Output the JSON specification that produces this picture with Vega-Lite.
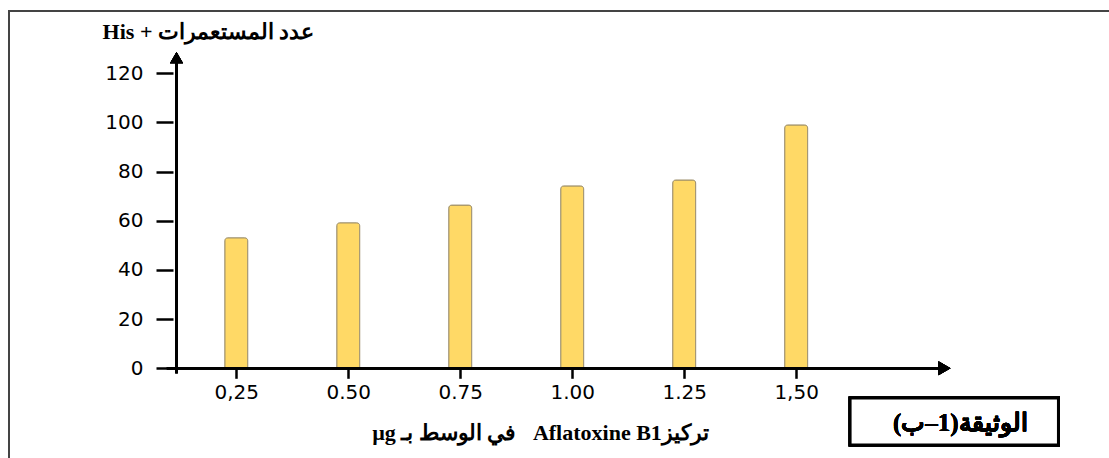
{
  "$schema": "https://vega.github.io/schema/vega-lite/v6.json",
  "width": 1105,
  "height": 452,
  "autosize": "none",
  "padding": {"left": 9, "top": 11, "right": 0, "bottom": 0},
  "background": "white",
  "config": {
    "view": {"stroke": "#444444", "strokeWidth": 2},
    "axis": {"grid": false, "domain": false}
  },
  "data": {
    "values": [
      {"conc": 0.25, "n": 53.1},
      {"conc": 0.5, "n": 59.2},
      {"conc": 0.75, "n": 66.4},
      {"conc": 1.0, "n": 74.2},
      {"conc": 1.25, "n": 76.6},
      {"conc": 1.5, "n": 99.0}
    ]
  },
  "layer": [
    {
      "mark": {"type": "bar", "width": 23, "fill": "#FFD966", "stroke": "#9C8E6A", "strokeWidth": 1, "cornerRadiusTopLeft": 3, "cornerRadiusTopRight": 3},
      "encoding": {
        "x": {
          "field": "conc", "type": "quantitative",
          "scale": {"domain": [-0.24624, 2.19845], "nice": false, "zero": false},
          "axis": {
            "orient": "bottom",
            "offset": -94.7,
            "values": [0.25, 0.5, 0.75, 1.0, 1.25, 1.5],
            "labelExpr": "datum.value == 0.25 ? '0,25' : datum.value == 1.5 ? '1,50' : format(datum.value, '.2f')",
            "tickSize": 10, "tickWidth": 2.5, "tickColor": "black",
            "labelFont": "DejaVu Sans", "labelFontSize": 20, "labelColor": "black", "labelPadding": 4,
            "title": "\u202Bتركيز\u202AAflatoxine B1\u202C\u00A0\u00A0 في الوسط بـ µg\u202C",
            "titleFont": "Liberation Serif", "titleFontSize": 22, "titleFontWeight": "bold", "titleColor": "black",
            "titleX": 531, "titleY": 64, "titleAlign": "center", "titleBaseline": "middle", "titleAngle": 0
          }
        },
        "y": {
          "field": "n", "type": "quantitative",
          "scale": {"domain": [-38.53, 145.36], "nice": false, "zero": false},
          "axis": {
            "orient": "left",
            "offset": -164,
            "values": [0, 20, 40, 60, 80, 100, 120],
            "tickSize": 17, "tickWidth": 2.5, "tickColor": "black",
            "labelFont": "DejaVu Sans", "labelFontSize": 20, "labelColor": "black", "labelPadding": 13,
            "title": "\u202Bعدد المستعمرات + His\u202C",
            "titleFont": "Liberation Serif", "titleFontSize": 22, "titleFontWeight": "bold", "titleColor": "black",
            "titleX": 35, "titleY": 20, "titleAlign": "center", "titleBaseline": "middle", "titleAngle": 0
          }
        }
      }
    },
    {
      "mark": {"type": "rule", "color": "black", "strokeWidth": 2.5},
      "encoding": {
        "x": {"datum": 0.0951, "type": "quantitative"},
        "x2": {"datum": 1.822},
        "y": {"datum": 0, "type": "quantitative"}
      }
    },
    {
      "mark": {"type": "rule", "color": "black", "strokeWidth": 2.5},
      "encoding": {
        "x": {"datum": 0.1166, "type": "quantitative"},
        "y": {"datum": -2, "type": "quantitative"},
        "y2": {"datum": 125}
      }
    },
    {
      "mark": {"type": "point", "shape": "triangle-right", "size": 196, "filled": true, "color": "black", "opacity": 1},
      "encoding": {
        "x": {"datum": 1.8312, "type": "quantitative"},
        "y": {"datum": 0, "type": "quantitative"}
      }
    },
    {
      "mark": {"type": "point", "shape": "triangle-up", "size": 169, "filled": true, "color": "black", "opacity": 1},
      "encoding": {
        "x": {"datum": 0.1166, "type": "quantitative"},
        "y": {"datum": 126.4, "type": "quantitative"}
      }
    },
    {
      "mark": {"type": "rect", "fill": "white", "stroke": "black", "strokeWidth": 3},
      "encoding": {
        "x": {"datum": 1.6204, "type": "quantitative"},
        "x2": {"datum": 2.0856},
        "y": {"datum": -12.08, "type": "quantitative"},
        "y2": {"datum": -31.2}
      }
    },
    {
      "mark": {"type": "text", "font": "Liberation Serif", "fontSize": 25, "fontWeight": "bold", "color": "black", "align": "center", "baseline": "middle", "text": "\u202Bالوثيقة(1–ب)\u202C"},
      "encoding": {
        "x": {"datum": 1.8666, "type": "quantitative"},
        "y": {"datum": -22.3, "type": "quantitative"}
      }
    }
  ]
}
